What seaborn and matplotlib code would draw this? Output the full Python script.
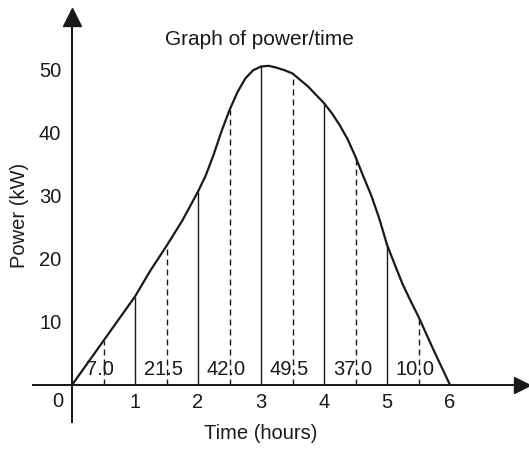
import matplotlib
matplotlib.use("Agg")
import matplotlib.pyplot as plt
import seaborn as sns

# curve (time in hours, power in kW)
hours = [0, 0.25, 0.5, 0.75, 1, 1.25, 1.5, 1.75, 2, 2.125, 2.25, 2.375, 2.5,
         2.625, 2.75, 2.875, 3, 3.125, 3.25, 3.375, 3.5, 3.75, 4, 4.125, 4.25,
         4.375, 4.5, 4.625, 4.75, 4.875, 5, 5.125, 5.25, 5.375, 5.5, 5.75, 6]
power = [0, 3.5, 7, 10.5, 14, 18.2, 22, 26, 30.6, 33.2, 36.5, 40.2, 43.5,
         46.3, 48.5, 49.8, 50.4, 50.5, 50.2, 49.8, 49.3, 47.2, 44.6, 43.0, 41.1,
         38.9, 36.1, 33.0, 30.0, 26.4, 22.2, 19.0, 15.9, 13.3, 10.8, 5.3, 0]

# ordinates at whole hours (solid) and at mid-points (dashed)
solid_t = [1, 2, 3, 4, 5]
solid_p = [14, 30.6, 50.4, 44.6, 22.2]
mid_t = [0.5, 1.5, 2.5, 3.5, 4.5, 5.5]
mid_p = [7, 22, 43.5, 49.3, 36.1, 10.8]
mid_labels = ["7.0", "21.5", "42.0", "49.5", "37.0", "10.0"]

x_ticks = [1, 2, 3, 4, 5, 6]
y_ticks = [10, 20, 30, 40, 50]

sns.set_theme(style="white")
plt.rcParams['font.family'] = ['Liberation Sans', 'DejaVu Sans']
ink = "#1a1a1a"

fig = plt.figure(figsize=(5.29, 4.49), dpi=100)
ax = fig.add_axes([0, 0, 1, 1])
ax.set_xlim(-1.143, 7.254)
ax.set_ylim(-10.13, 60.92)

sns.lineplot(x=hours, y=power, ax=ax, color=ink, lw=1.6, sort=False)
ax.vlines(solid_t, 0, solid_p, color=ink, lw=1.0)
ax.vlines(mid_t, 0, mid_p, color=ink, lw=1.0, linestyles=(0, (4.3, 2.9)))

for t, lab in zip(mid_t, mid_labels):
    ax.text(t - 0.05, 2.5, lab, ha="center", va="center", fontsize=14.5, color=ink)

# axes through the origin with arrow heads
for side in ["top", "right"]:
    ax.spines[side].set_visible(False)
ax.spines["left"].set_position(("data", 0))
ax.spines["bottom"].set_position(("data", 0))
ax.spines["left"].set_bounds(-5.8, 58)
ax.spines["bottom"].set_bounds(-0.62, 7.1)
for side in ["left", "bottom"]:
    ax.spines[side].set_linewidth(1.45)
    ax.spines[side].set_color(ink)
ax.plot(0, 58.3, marker="^", ms=12.5, color=ink, clip_on=False)
ax.plot(7.14, 0, marker=">", ms=12, color=ink, clip_on=False)

ax.set_xticks(x_ticks)
ax.set_yticks(y_ticks)
ax.tick_params(axis="x", length=0, pad=6, labelsize=14.5, colors=ink)
ax.tick_params(axis="y", direction="out", length=6.5, width=1, pad=1.2,
               labelsize=14.5, colors=ink)
ax.annotate("0", (0, 0), xytext=(-10, -12), textcoords="offset points",
            ha="center", va="center", fontsize=14.5, color=ink)

ax.set_xlabel("Time (hours)", fontsize=14.5, color=ink, va="center")
ax.xaxis.set_label_coords(3.0, -7.6, transform=ax.transData)
ax.set_ylabel("Power (kW)", fontsize=14.5, color=ink, va="center")
ax.yaxis.set_label_coords(-0.83, 26.9, transform=ax.transData)

ax.text(2.98, 54.6, "Graph of power/time", ha="center", va="center",
        fontsize=15, color=ink)

fig.savefig("out.png", dpi=100)
